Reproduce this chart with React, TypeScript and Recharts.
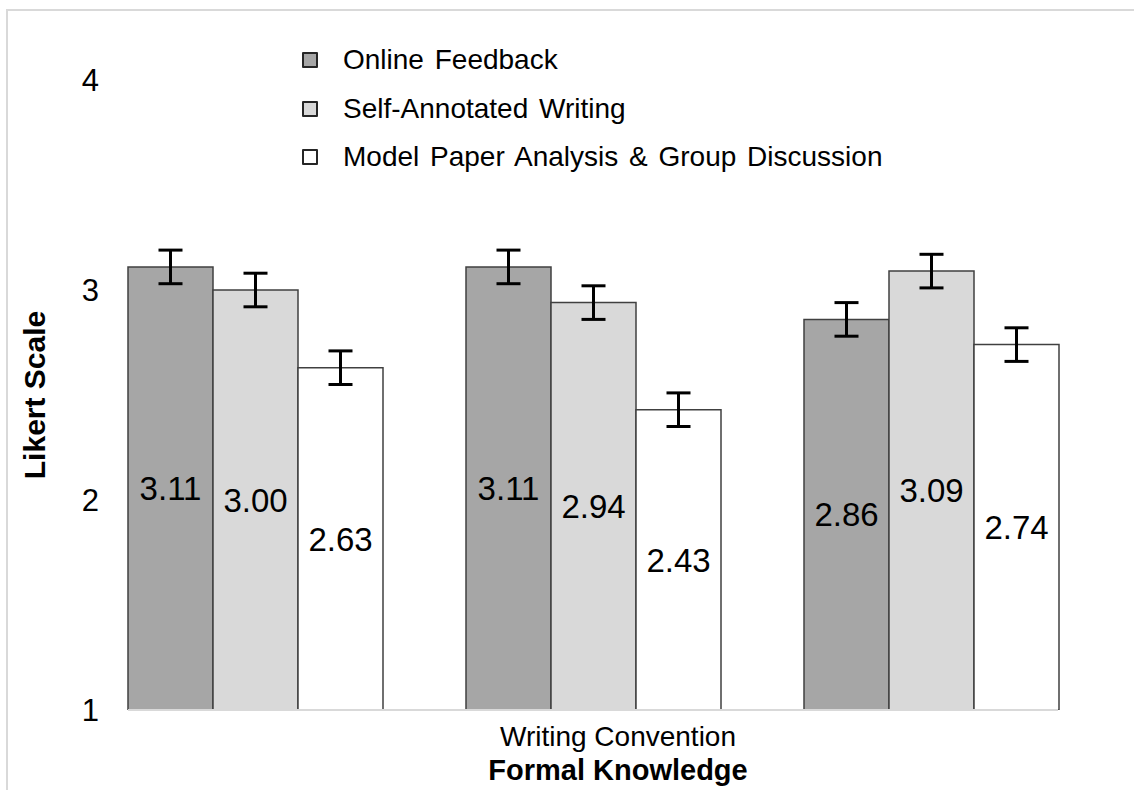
import React from "react";
import { BarChart, Bar, XAxis, YAxis, ErrorBar, LabelList, Legend } from "recharts";

// three unlabeled groups under one x-axis caption
const groups = ["G1", "G2", "G3"];
const seriesNames = [
  "Online Feedback",
  "Self-Annotated Writing",
  "Model Paper Analysis & Group Discussion",
];
const onlineFeedback = [3.11, 3.11, 2.86];
const selfAnnotated = [3.0, 2.94, 3.09];
const modelPaper = [2.63, 2.43, 2.74];
const onlineFeedbackErr = [0.08, 0.08, 0.08];
const selfAnnotatedErr = [0.08, 0.08, 0.08];
const modelPaperErr = [0.08, 0.08, 0.08];
const yTicks = [1, 2, 3, 4];

const data = groups.map((g, i) => ({
  group: g,
  online: onlineFeedback[i],
  onlineErr: onlineFeedbackErr[i],
  self: selfAnnotated[i],
  selfErr: selfAnnotatedErr[i],
  model: modelPaper[i],
  modelErr: modelPaperErr[i],
}));

const FONT = '"Liberation Sans", Arial, sans-serif';
const OUTLINE = "#404040";

const YTick = ({ x, y, payload }: any) => (
  <text x={x + 21} y={y} dy="0.36em" textAnchor="end" fontSize={31} fill="#000" fontFamily={FONT}>
    {payload.value}
  </text>
);

const YTitle = ({ viewBox }: any) => {
  const cx = viewBox.x + 34;
  const cy = viewBox.y + viewBox.height / 2;
  return (
    <text
      x={cx}
      y={cy}
      transform={`rotate(-90 ${cx} ${cy})`}
      textAnchor="middle"
      dominantBaseline="central"
      fontSize={30}
      fontWeight="bold"
      fill="#000"
      fontFamily={FONT}
    >
      Likert Scale
    </text>
  );
};

// two-line caption under the axis
const XTitle = ({ viewBox }: any) => {
  const cx = viewBox.x + viewBox.width / 2 + 25;
  return (
    <g fontFamily={FONT} fill="#000" textAnchor="middle">
      <text x={cx} y={viewBox.y + 36} fontSize={28}>
        Writing Convention
      </text>
      <text x={cx} y={viewBox.y + 70} fontSize={29} fontWeight="bold">
        Formal Knowledge
      </text>
    </g>
  );
};

const LegendBox = ({ payload }: any) => {
  const items = [...(payload || [])].sort(
    (a: any, b: any) => seriesNames.indexOf(a.value) - seriesNames.indexOf(b.value)
  );
  return (
    <div style={{ fontFamily: FONT, fontSize: 28, color: "#000" }}>
      {items.map((p: any) => (
        <div key={p.value} style={{ display: "flex", alignItems: "center", height: 48.5 }}>
          <span
            style={{
              display: "inline-block",
              width: 12,
              height: 12,
              background: p.color,
              border: "2.5px solid #262626",
              borderRadius: 1,
              marginRight: 25,
            }}
          />
          <span style={{ wordSpacing: 3 }}>{p.value}</span>
        </div>
      ))}
    </div>
  );
};

export default function App() {
  return (
    <div
      style={{
        position: "absolute",
        left: 0,
        top: 0,
        width: 1134,
        height: 790,
        overflow: "hidden",
        background: "#fff",
      }}
    >
      <div
        style={{
          position: "absolute",
          left: 6,
          top: 9,
          width: 1300,
          height: 900,
          border: "2px solid #d9d9d9",
        }}
      />
      <div style={{ position: "absolute", left: 0, top: 0 }}>
        <BarChart
          width={1134}
          height={790}
          data={data}
          margin={{ top: 80, right: 34, bottom: 0, left: 0 }}
          barCategoryGap={42}
          barGap={0}
        >
          <XAxis
            dataKey="group"
            height={80}
            tick={false}
            tickLine={false}
            axisLine={{ stroke: "#d9d9d9", strokeWidth: 2, strokeDasharray: "0 42 930 42" }}
            label={XTitle}
          />
          <YAxis
            width={86}
            domain={[1, 4]}
            ticks={yTicks}
            allowDataOverflow
            axisLine={false}
            tickLine={false}
            tick={<YTick />}
            label={YTitle}
          />
          <Legend
            layout="vertical"
            align="center"
            verticalAlign="middle"
            content={<LegendBox />}
            wrapperStyle={{ position: "absolute", left: 302, top: 36, width: "auto", height: "auto" }}
          />
          <Bar dataKey="online" name={seriesNames[0]} fill="#a6a6a6" stroke={OUTLINE} strokeWidth={1.5} isAnimationActive={false}>
            <ErrorBar dataKey="onlineErr" width={12} strokeWidth={3} stroke="#000" direction="y" />
            <LabelList dataKey="online" position="center" formatter={(v: any) => Number(v).toFixed(2)} fontSize={33} fill="#000" fontFamily={FONT} />
          </Bar>
          <Bar dataKey="self" name={seriesNames[1]} fill="#d9d9d9" stroke={OUTLINE} strokeWidth={1.5} isAnimationActive={false}>
            <ErrorBar dataKey="selfErr" width={12} strokeWidth={3} stroke="#000" direction="y" />
            <LabelList dataKey="self" position="center" formatter={(v: any) => Number(v).toFixed(2)} fontSize={33} fill="#000" fontFamily={FONT} />
          </Bar>
          <Bar dataKey="model" name={seriesNames[2]} fill="#ffffff" stroke={OUTLINE} strokeWidth={1.5} isAnimationActive={false}>
            <ErrorBar dataKey="modelErr" width={12} strokeWidth={3} stroke="#000" direction="y" />
            <LabelList dataKey="model" position="center" formatter={(v: any) => Number(v).toFixed(2)} fontSize={33} fill="#000" fontFamily={FONT} />
          </Bar>
        </BarChart>
      </div>
    </div>
  );
}
